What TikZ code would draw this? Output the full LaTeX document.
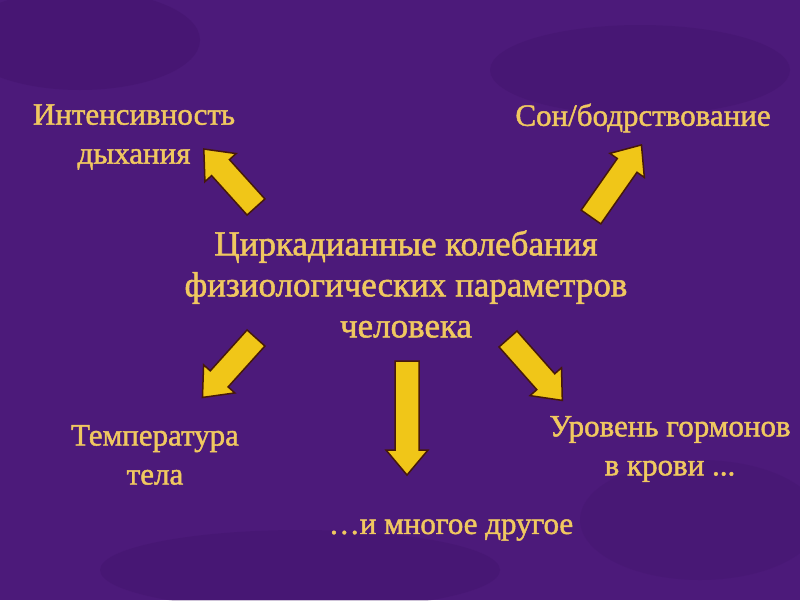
\documentclass[tikz,border=0pt]{standalone}
\usepackage{fontspec}
\setmainfont{Liberation Serif}
\newfontfamily\heavy[FakeBold=1.5]{Liberation Serif}
\definecolor{bgpurple}{RGB}{76,26,122}
\definecolor{bgdark}{RGB}{60,16,100}
\definecolor{goldtext}{RGB}{240,200,96}
\definecolor{arrowfill}{RGB}{240,198,24}
\definecolor{arrowedge}{RGB}{70,25,10}
\tikzset{
  lbl/.style={text=goldtext, font=\heavy\fontsize{31}{39}\selectfont, align=center, inner sep=0pt},
  biglbl/.style={text=goldtext, font=\heavy\fontsize{35}{41}\selectfont, align=center, inner sep=0pt},
  blockarrow/.style={fill=arrowfill, draw=arrowedge, line width=1.5pt, line join=miter},
}
\newcommand{\barrow}[4]{%
  \draw[blockarrow, shift={(#1,#2)}, rotate=#3]
    (0,-12) -- (#4-25,-12) -- (#4-25,-21) -- (#4,0) -- (#4-25,21) -- (#4-25,12) -- (0,12) -- cycle;}
\begin{document}
\begin{tikzpicture}[x=1pt,y=-1pt]
  \useasboundingbox (0,0) rectangle (800,600);
  \fill[bgpurple] (0,0) rectangle (800,600);
  \fill[bgdark, opacity=0.3] (80,40) ellipse (120 and 50);
  \fill[bgdark, opacity=0.25] (640,70) ellipse (150 and 45);
  \fill[bgdark, opacity=0.25] (300,570) ellipse (200 and 40);
  \fill[bgdark, opacity=0.2] (700,520) ellipse (120 and 60);

  \node[biglbl] (center) at (406,284) {Циркадианные колебания\\физиологических параметров\\человека};
  \node[lbl] (breath) at (134,137) {Интенсивность\\дыхания};
  \node[lbl] (sleep) at (643,118) {Сон/бодрствование};
  \node[lbl] (temp) at (155,455) {Температура\\тела};
  \node[lbl] (horm) at (670,449) {Уровень гормонов\\в крови ...};
  \node[lbl] (other) at (451,530) {…и многое другое};

  \barrow{256}{207}{132}{78}
  \barrow{591}{217}{55}{88}
  \barrow{256}{338}{-132}{80}
  \barrow{407}{361}{-90}{114}
  \barrow{508}{339}{-48.5}{82}
\end{tikzpicture}
\end{document}
